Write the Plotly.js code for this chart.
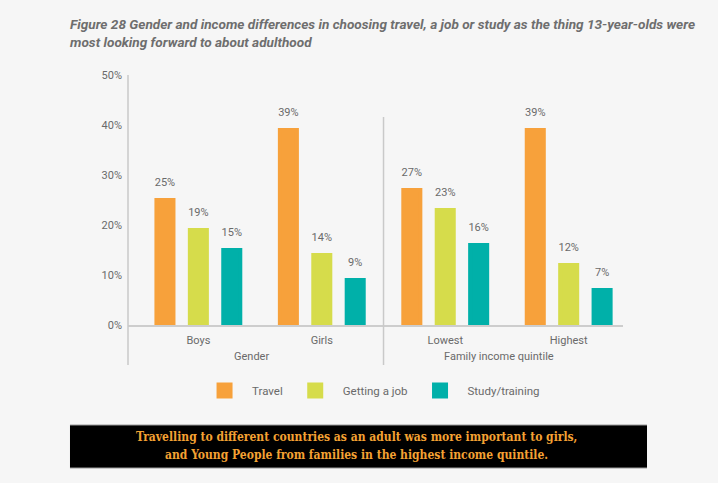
<!DOCTYPE html>
<html>
<head>
    <meta charset="UTF-8">
    <title>Figure 28</title>
    <script src="https://cdn.plot.ly/plotly-3.0.1.min.js"></script>
    <style>
        body {
            margin: 0;
            padding: 0;
            background-color: #f6f6f6;
        }
        #chart {
            width: 718px;
            height: 483px;
        }
    </style>
</head>
<body>
    <div id="chart"></div>

    <script>
        // data
        var categories = ['Boys', 'Girls', 'Lowest', 'Highest'];
        var seriesNames = ['Travel', 'Getting a job', 'Study/training'];
        var travel = [25, 39, 27, 39];
        var gettingJob = [19, 14, 23, 12];
        var studyTraining = [15, 9, 16, 7];
        var groupLabels = ['Gender', 'Family income quintile'];
        var yTicks = [0, 10, 20, 30, 40, 50];

        var colors = ['#f7a13b', '#d6dc4b', '#00b0a9'];
        var grey = '#6a6a6a';
        var font = 'Roboto, sans-serif';
        var slab = '"DejaVu Serif Condensed", "DejaVu Serif", serif';

        var series = [travel, gettingJob, studyTraining];

        var traces = [];
        // bars (a same-colour outline makes the legend swatch bigger)
        series.forEach(function (vals, i) {
            traces.push({
                type: 'bar',
                name: seriesNames[i],
                x: categories,
                y: vals,
                offsetgroup: 'g' + i,
                marker: { color: colors[i], line: { color: colors[i], width: 4 } },
                hoverinfo: 'skip'
            });
        });
        // value labels above the bars
        series.forEach(function (vals, i) {
            traces.push({
                type: 'scatter',
                mode: 'markers+text',
                x: categories,
                y: vals,
                offsetgroup: 'g' + i,
                text: vals.map(function (v) { return v + '%'; }),
                textposition: 'top center',
                textfont: { family: font, size: 11, color: grey },
                marker: { size: 16, opacity: 0 },
                cliponaxis: false,
                showlegend: false,
                hoverinfo: 'skip'
            });
        });

        var divider = { type: 'line', line: { color: '#c9c9c9', width: 1.5 } };

        var layout = {
            width: 718,
            height: 483,
            paper_bgcolor: '#f6f6f6',
            plot_bgcolor: '#f6f6f6',
            font: { family: font, size: 11, color: grey },
            margin: { l: 128, r: 95, t: 75, b: 158 },
            barmode: 'group',
            bargap: 0.188,
            bargroupgap: 0.49,
            scattermode: 'group',
            scattergap: 0.188,
            title: {
                text: 'Figure 28 Gender and income differences in choosing travel, a job or study as the thing 13-year-olds were<br>most looking forward to about adulthood',
                font: { family: font, size: 13.6, color: '#6e6e6e', weight: 'bold', style: 'italic' },
                xref: 'container',
                x: 0.0975,
                xanchor: 'left',
                yref: 'container',
                y: 0.94,
                yanchor: 'top'
            },
            xaxis: {
                type: 'category',
                categoryorder: 'array',
                categoryarray: categories,
                range: [-0.57, 3.44],
                showgrid: false,
                zeroline: false,
                showline: true,
                linecolor: '#cdcdcd',
                linewidth: 1.5,
                ticks: '',
                ticklabelstandoff: 4,
                tickfont: { family: font, size: 11, color: grey },
                fixedrange: true
            },
            yaxis: {
                range: [0, 50],
                tickmode: 'array',
                tickvals: yTicks,
                ticktext: yTicks.map(function (t) { return t + '%'; }),
                showgrid: false,
                zeroline: false,
                showline: false,
                ticks: '',
                ticklabelstandoff: 5,
                tickfont: { family: font, size: 11, color: grey },
                fixedrange: true
            },
            showlegend: true,
            legend: {
                orientation: 'h',
                x: 0.491,
                xanchor: 'center',
                y: -0.262,
                yanchor: 'middle',
                itemwidth: 45,
                bgcolor: 'rgba(0,0,0,0)',
                font: { family: font, size: 11.5, color: grey }
            },
            shapes: [
                // left axis line running down through the group labels
                Object.assign({}, divider, { xref: 'paper', yref: 'paper', x0: 0, x1: 0, y0: -0.16, y1: 1 }),
                // divider between the two groups
                Object.assign({}, divider, { xref: 'x', yref: 'paper', x0: 1.5, x1: 1.5, y0: -0.16, y1: 0.832 }),
                // black banner
                { type: 'rect', xref: 'paper', yref: 'paper', x0: -0.1172, x1: 1.0485, y0: -0.572, y1: -0.4,
                  fillcolor: '#000000', line: { width: 0 }, layer: 'above' },
                { type: 'line', xref: 'paper', yref: 'paper', x0: -0.1172, x1: 1.0485, y0: -0.4, y1: -0.4,
                  line: { color: '#9a9a9a', width: 1 }, layer: 'above' },
                { type: 'line', xref: 'paper', yref: 'paper', x0: -0.1172, x1: 1.0485, y0: -0.572, y1: -0.572,
                  line: { color: '#9a9a9a', width: 1 }, layer: 'above' }
            ],
            annotations: [
                { text: groupLabels[0], xref: 'paper', yref: 'paper', x: 0.25, y: -0.124,
                  xanchor: 'center', yanchor: 'middle',
                  showarrow: false, font: { family: font, size: 11, color: grey } },
                { text: groupLabels[1], xref: 'paper', yref: 'paper', x: 0.75, y: -0.124,
                  xanchor: 'center', yanchor: 'middle',
                  showarrow: false, font: { family: font, size: 11, color: grey } },
                { text: 'Travelling to different countries as an adult was more important to girls,',
                  xref: 'paper', yref: 'paper', x: 0.4626, y: -0.448, showarrow: false,
                  xanchor: 'center', yanchor: 'middle',
                  font: { family: slab, size: 12, color: '#f4a233', weight: 'bold' } },
                { text: 'and Young People from families in the highest income quintile.',
                  xref: 'paper', yref: 'paper', x: 0.4626, y: -0.52, showarrow: false,
                  xanchor: 'center', yanchor: 'middle',
                  font: { family: slab, size: 12, color: '#f4a233', weight: 'bold' } }
            ]
        };

        Plotly.newPlot('chart', traces, layout, { displayModeBar: false, staticPlot: true });
    </script>
</body>
</html>
